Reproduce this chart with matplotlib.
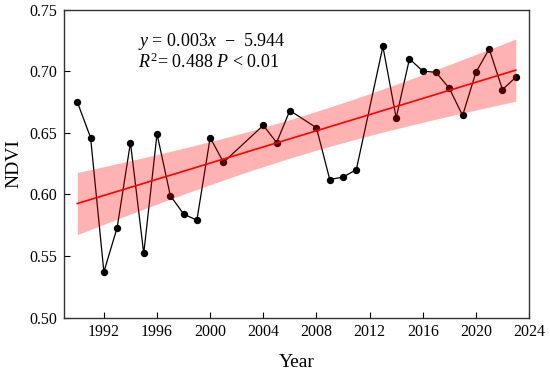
import numpy as np
import matplotlib
matplotlib.use("Agg")
import matplotlib.pyplot as plt

years = [1990, 1991, 1992, 1993, 1994, 1995, 1996, 1997, 1998, 1999, 2000, 2001,
         2004, 2005, 2006, 2008, 2009, 2010, 2011, 2013, 2014, 2015, 2016, 2017,
         2018, 2019, 2020, 2021, 2022, 2023]
ndvi = [0.675, 0.646, 0.537, 0.573, 0.642, 0.552, 0.649, 0.599, 0.584, 0.579, 0.646, 0.626,
        0.656, 0.642, 0.668, 0.654, 0.612, 0.614, 0.620, 0.720, 0.662, 0.710, 0.700, 0.699,
        0.686, 0.664, 0.699, 0.718, 0.685, 0.695]

# trend line and confidence band (ends)
trend_x = [1990, 2023]
trend_y = [0.5925, 0.7008]
band_upper = [0.618, 0.726]
band_lower = [0.5675, 0.6756]

xticks = [1992, 1996, 2000, 2004, 2008, 2012, 2016, 2020, 2024]
yticks = [0.50, 0.55, 0.60, 0.65, 0.70, 0.75]

plt.rcParams['font.family'] = ['Liberation Serif', 'DejaVu Serif']
plt.rcParams['mathtext.fontset'] = 'custom'
plt.rcParams['mathtext.rm'] = 'Liberation Serif'
plt.rcParams['mathtext.it'] = 'Liberation Serif:italic'

fig = plt.figure(figsize=(5.5, 3.75), dpi=100)
ax = fig.add_axes([0.1164, 0.1533, 0.8455, 0.8213])

ax.plot(years, ndvi, color='black', linewidth=0.9, zorder=2)
ax.scatter(years, ndvi, s=28, color='black', zorder=3, linewidths=0)

# confidence band: slightly narrower in the middle, drawn translucent on top
x = np.array(trend_x, dtype=float)
xs = np.linspace(x[0], x[1], 100)
ty = np.interp(xs, trend_x, trend_y)
hw_end = (band_upper[0] - band_lower[0]) / 2
xm = (x[0] + x[1]) / 2
half = (x[1] - x[0]) / 2
hw_mid = hw_end * 0.62
hw = np.sqrt(hw_mid**2 + (hw_end**2 - hw_mid**2) * ((xs - xm) / half) ** 2)
ax.fill_between(xs, ty - hw, ty + hw, color='#ff0000', alpha=0.3, linewidth=0, zorder=4)
ax.plot(trend_x, trend_y, color='#ff0000', linewidth=1.2, zorder=5)

ax.set_xlim(1989, 2024)
ax.set_ylim(0.50, 0.75)
ax.set_xticks(xticks)
ax.set_yticks(yticks)
ax.set_yticklabels([f"{v:.2f}" for v in yticks])
ax.tick_params(direction='in', length=4, width=0.8, labelsize=11.5, colors='black', pad=5)
for s in ax.spines.values():
    s.set_color('#333333')
    s.set_linewidth(1.0)

ax.set_xlabel('Year', fontsize=14, labelpad=10)
ax.set_ylabel('NDVI', fontsize=14, labelpad=5)

ax.text(0.159, 0.895, '$y$ = 0.003$x$  \u2212  5.944', transform=ax.transAxes,
        fontsize=13, ha='left', va='center')
ax.text(0.159, 0.828, '$R^2$= 0.488 $P$ < 0.01', transform=ax.transAxes,
        fontsize=13, ha='left', va='center')

fig.savefig('out.png', dpi=100)
